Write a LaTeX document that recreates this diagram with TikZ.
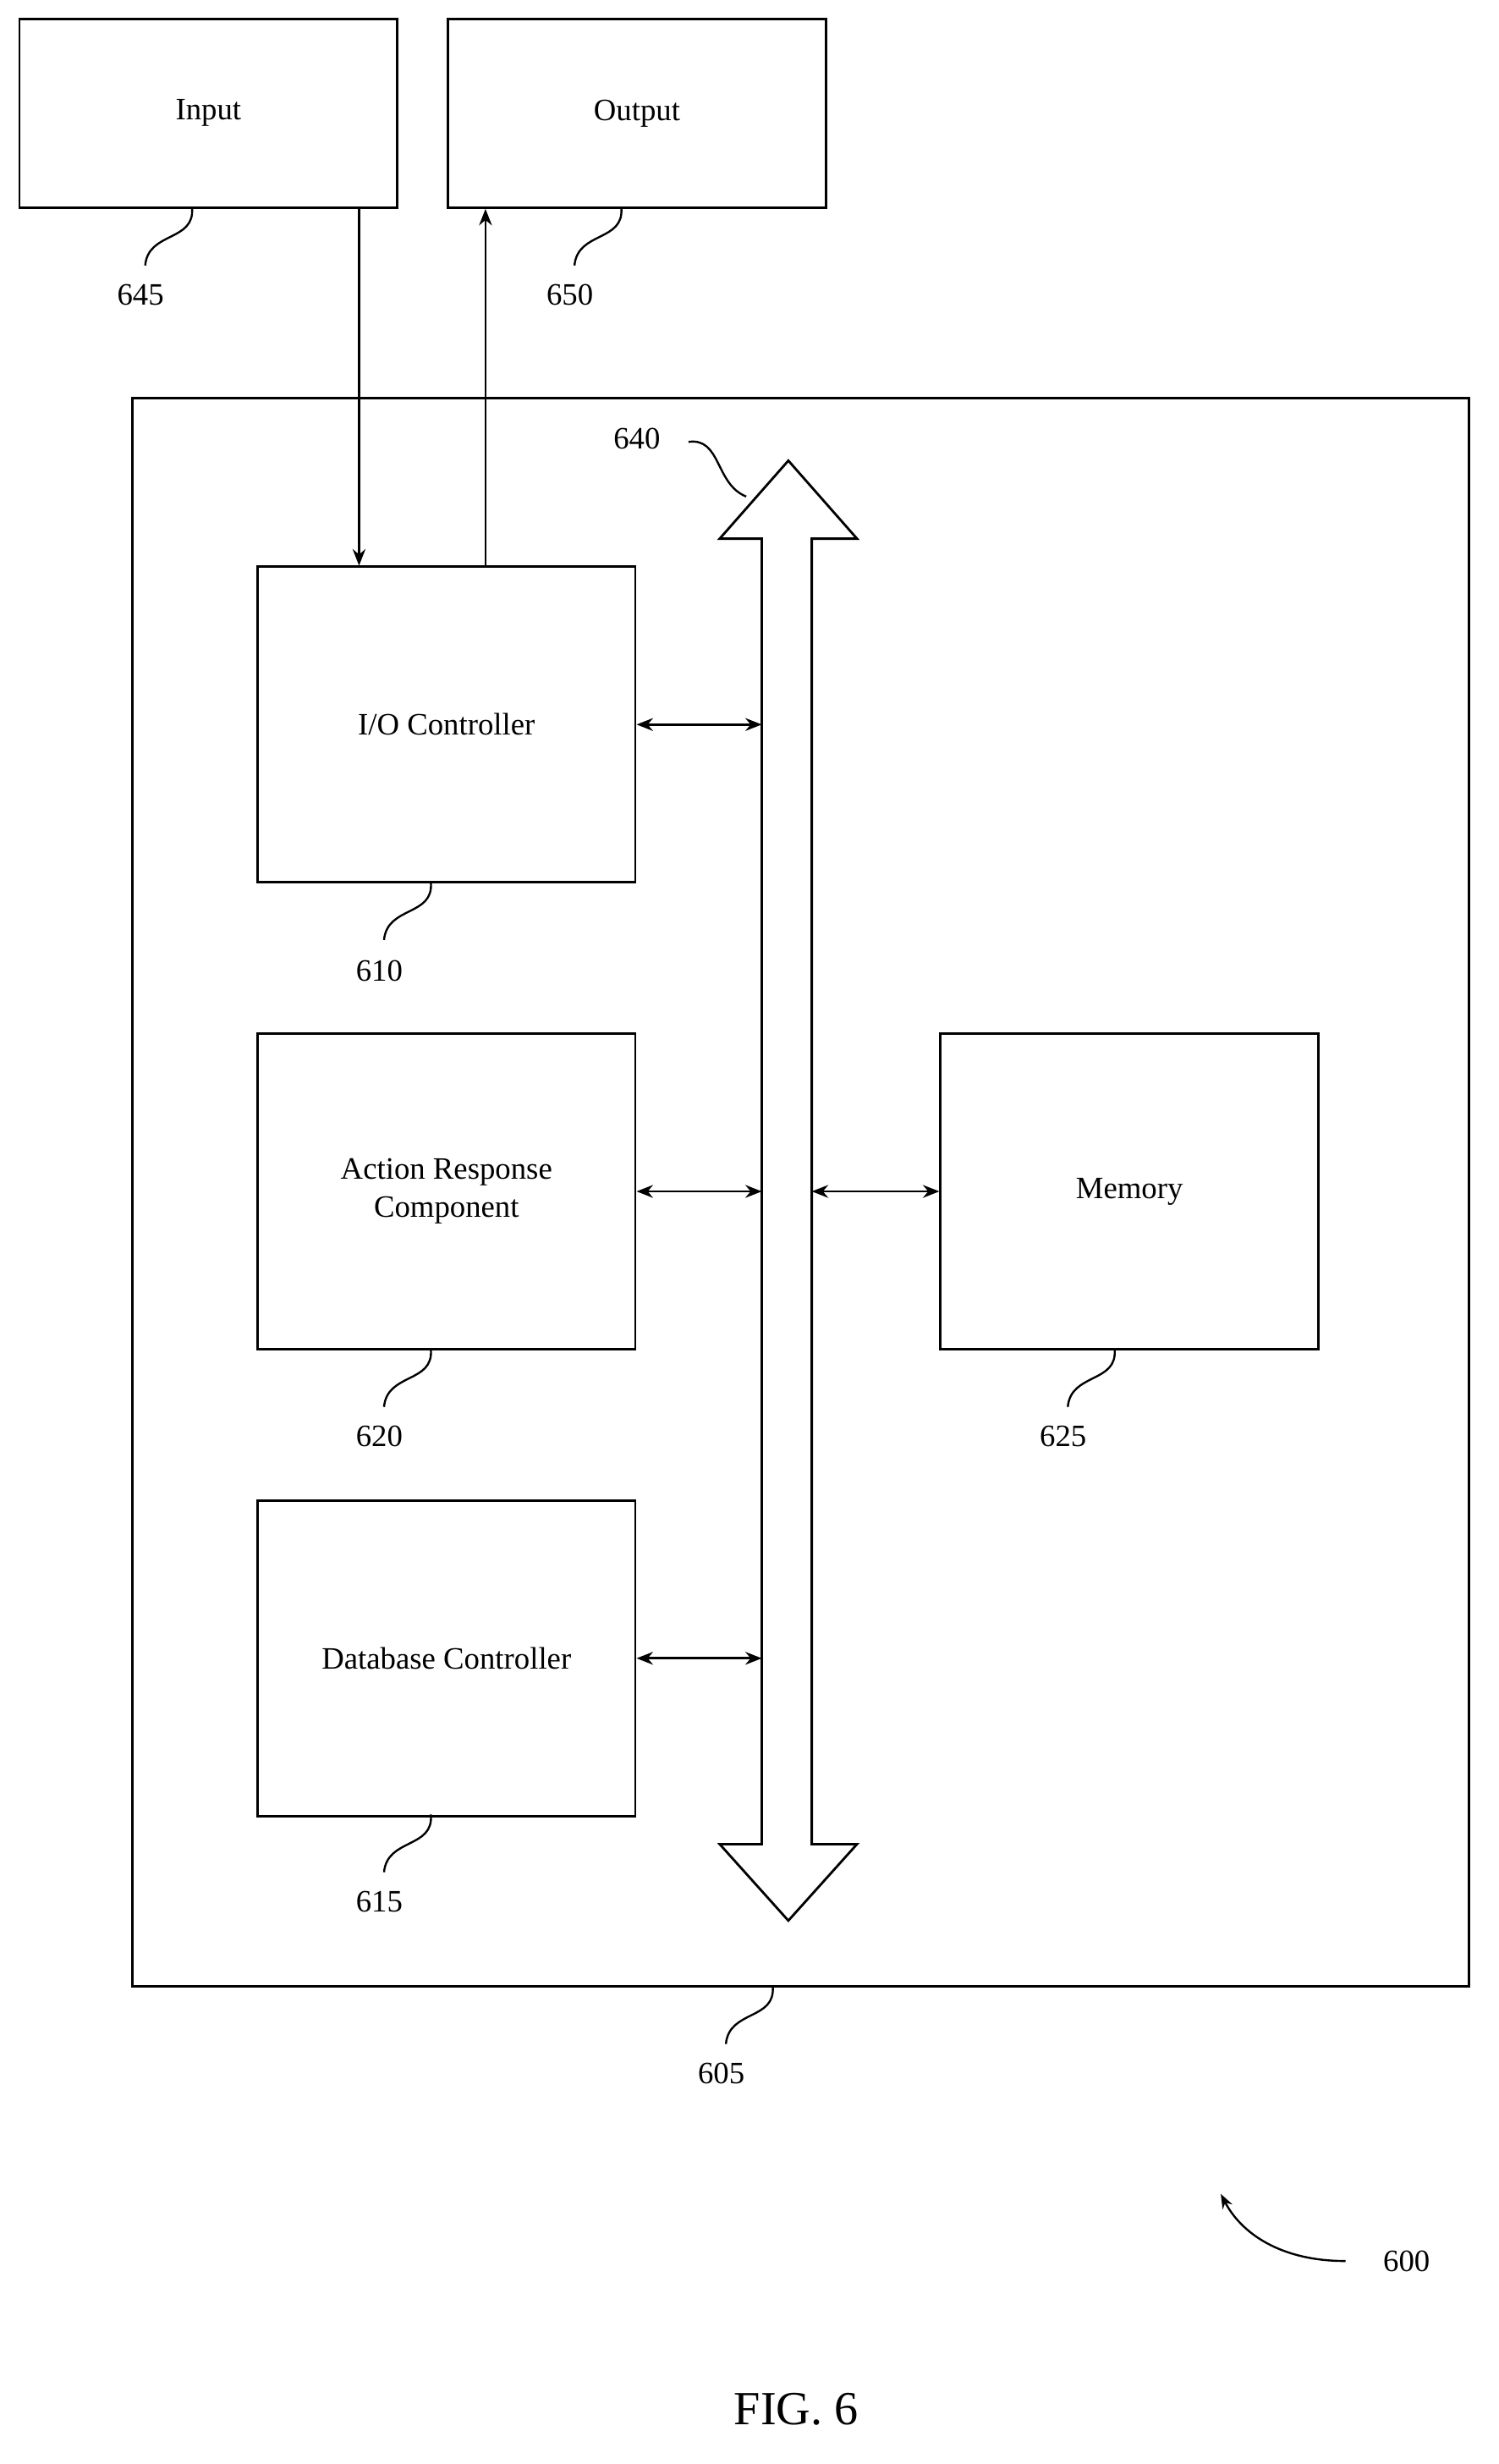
\documentclass[tikz,border=0pt]{standalone}
\usepackage{fontspec}
\setmainfont{Liberation Serif}
\usetikzlibrary{positioning,arrows.meta}
\tikzset{
  box/.style={draw, line width=1.3pt, minimum width=7.26cm, minimum height=6.06cm, align=center, font=\fontsize{17}{21}\selectfont},
  lbl/.style={font=\fontsize{17}{21}\selectfont},
  conn/.style={line width=1.3pt, -{Stealth[length=9pt,width=7pt]}},
  dconn/.style={line width=1.3pt, {Stealth[length=9pt,width=7pt]}-{Stealth[length=9pt,width=7pt]}},
  sq/.style={line width=1.1pt}
}
\begin{document}
\begin{tikzpicture}[x=0.03cm, y=-0.03cm]
  \useasboundingbox (0,0) rectangle (960,1578);
  % Kasten aussen
  \draw[line width=1.3pt] (85,255) rectangle (941,1272);
  % Kaesten
  \node[box, minimum height=3.63cm] (input) at (133.5,72.5) {Input};
  \node[box, minimum height=3.63cm] (output) at (408,72.5) {Output};
  \node[box] (ioc) at (286,464) {I/O Controller};
  \node[box] (arc) at (286,763) {Action Response\\Component};
  \node[box] (dbc) at (286,1062) {Database Controller};
  \node[box] (mem) at (723.5,763) {Memory};
  % Bus
  \draw[line width=1.3pt] (488,1181) -- (488,345) -- (461,345) -- (505,295) -- (549,345) -- (520,345)
    -- (520,1181) -- (549,1181) -- (505,1230) -- (461,1181) -- cycle;
  \coordinate (busL1) at (488,464);
  \coordinate (busL2) at (488,763);
  \coordinate (busL3) at (488,1062);
  \coordinate (busR2) at (520,763);
  % Pfeile
  \draw[conn] (input.south -| 230,0) -- (ioc.north -| 230,0);
  \draw[conn] (ioc.north -| 311,0) -- (output.south -| 311,0);
  \draw[dconn] (ioc.east) -- (busL1);
  \draw[dconn] (arc.east) -- (busL2);
  \draw[dconn] (dbc.east) -- (busL3);
  \draw[dconn] (busR2) -- (mem.west);
  % Bezugszeichen
  \draw[sq] (123,133) .. controls (125,155) and (95,148) .. (93,170);
  \node[lbl] (n645) at (90,189) {645};
  \draw[sq] (398,133) .. controls (400,155) and (370,148) .. (368,170);
  \node[lbl] (n650) at (365,189) {650};
  \draw[sq] (276,565) .. controls (278,587) and (248,580) .. (246,602);
  \node[lbl] (n610) at (243,622) {610};
  \draw[sq] (276,864) .. controls (278,886) and (248,879) .. (246,901);
  \node[lbl] (n620) at (243,920) {620};
  \draw[sq] (276,1162) .. controls (278,1184) and (248,1177) .. (246,1199);
  \node[lbl] (n615) at (243,1218) {615};
  \draw[sq] (714,864) .. controls (716,886) and (686,879) .. (684,901);
  \node[lbl] (n625) at (681,920) {625};
  \draw[sq] (495,1272) .. controls (497,1294) and (467,1287) .. (465,1309);
  \node[lbl] (n605) at (462,1328) {605};
  \node[lbl] (n640) at (408,281) {640};
  \draw[sq] (441,283) .. controls (462,280) and (458,310) .. (478,318);
  \node[lbl] (n600) at (901,1448) {600};
  \draw[sq, -{Stealth[length=8pt,width=6pt]}] (862,1448) .. controls (820,1448) and (795,1430) .. (782,1405);
  \node[font=\fontsize{26}{30}\selectfont] (fig) at (510,1543) {FIG. 6};
\end{tikzpicture}
\end{document}
